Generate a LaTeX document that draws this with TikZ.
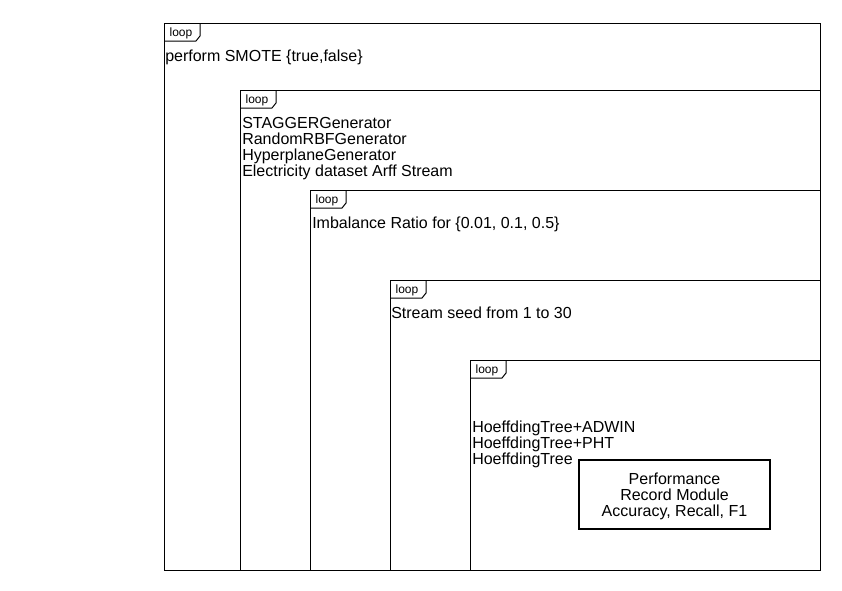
\documentclass[tikz,border=0pt]{standalone}
\usepackage{fontspec}
\setmainfont{Liberation Sans}
\newcommand{\linesof}[1]{\vtop{\baselineskip=12pt\lineskiplimit=-100pt\halign{##\hfil\cr#1\crcr}}}
\newcommand{\clinesof}[1]{\vtop{\baselineskip=12pt\lineskiplimit=-100pt\halign{\hfil##\hfil\cr#1\crcr}}}
\begin{document}
\begin{tikzpicture}[x=0.75pt,y=-0.75pt,
  frame/.style={draw=black,line width=0.75pt},
  lbl/.style={anchor=base west,inner sep=0pt,font=\fontsize{12}{12}\selectfont},
  tabtxt/.style={anchor=base,inner sep=0pt,font=\fontsize{9}{9}\selectfont},
  perf/.style={draw=black,line width=1.5pt,inner sep=0pt,minimum width=191*0.75pt,minimum height=69*0.75pt},
  perftxt/.style={anchor=base,inner sep=0pt,font=\fontsize{12}{12}\selectfont}]
\useasboundingbox (0,0) rectangle (842,590);
\fill[white] (0,0) rectangle (842,590);
% frames
\foreach \x/\y [count=\i] in {164/23,240/90,310/190,390/280,470/360}{
  \draw[frame] (\x,\y) rectangle (820,570);
  \draw[frame] (\x,\y+18) -- (\x+32,\y+18) -- (\x+36,\y+13) -- (\x+36,\y);
  \node[tabtxt] (tab\i) at (\x+17,\y+13) {loop};
}
\node[lbl] (l1) at (165,61) {perform SMOTE \{true,false\}};
\node[lbl] (l2) at (242,128) {\linesof{STAGGERGenerator\cr RandomRBFGenerator\cr HyperplaneGenerator\cr Electricity dataset Arff Stream}};
\node[lbl] (l3) at (312,228) {Imbalance Ratio for \{0.01, 0.1, 0.5\}};
\node[lbl] (l4) at (391,318) {Stream seed from 1 to 30};
\node[lbl] (l5) at (472,432) {\linesof{HoeffdingTree+ADWIN\cr HoeffdingTree+PHT\cr HoeffdingTree}};
\node[perf] (perf) at (674.5,494.5) {};
\node[perftxt] (perft) at (674.5,484) {\clinesof{Performance\cr Record Module\cr Accuracy, Recall, F1}};
\end{tikzpicture}
\end{document}
